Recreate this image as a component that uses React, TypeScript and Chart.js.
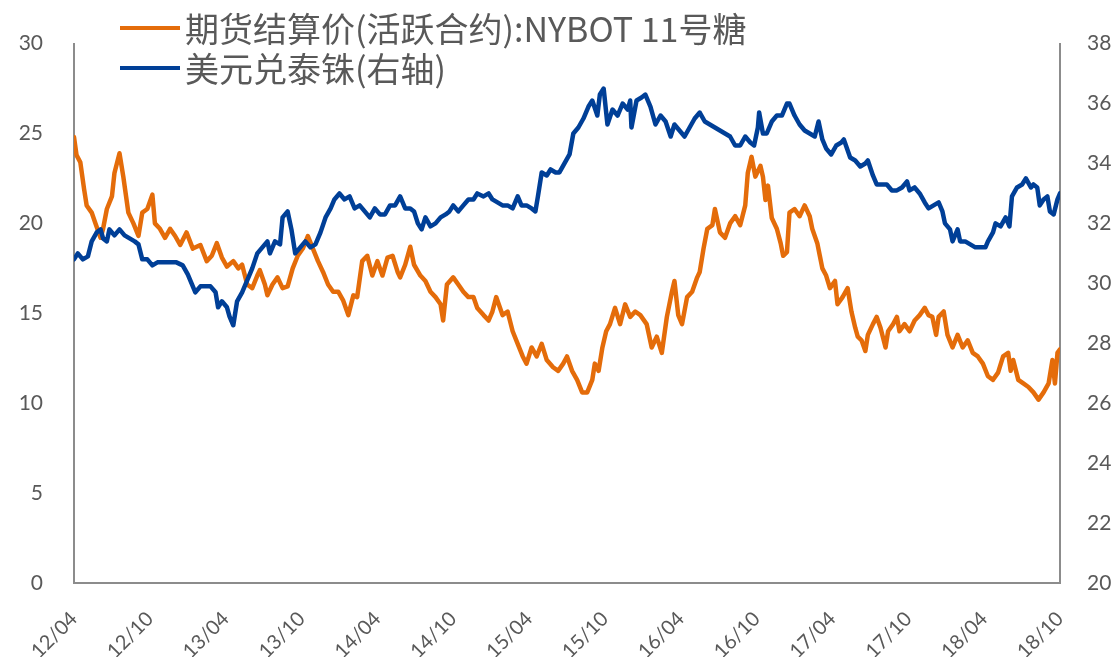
import React, { useEffect, useRef } from "react";
import { Chart, registerables } from "chart.js";

Chart.register(...registerables);

// X axis: months since 2012-04; ticks every 6 months
const tickLabels = ["12/04", "12/10", "13/04", "13/10", "14/04", "14/10", "15/04", "15/10", "16/04", "16/10", "17/04", "17/10", "18/04", "18/10"];

const legendLabels = ["期货结算价(活跃合约):NYBOT 11号糖", "美元兑泰铢(右轴)"];

// ICE/NYBOT No.11 sugar settlement price (left axis)
const sugarMonths = [0, 0.2, 0.5, 0.8, 1.0, 1.4, 1.7, 2.1, 2.3, 2.6, 3.0, 3.2, 3.6, 3.9, 4.3, 4.7, 5.1, 5.4, 5.8, 6.2, 6.4, 6.8, 7.2, 7.6, 8.0, 8.4, 8.9, 9.4, 10.0, 10.5, 10.9, 11.3, 11.7, 12.1, 12.6, 13.0, 13.3, 13.7, 14.1, 14.5, 14.7, 15.1, 15.3, 15.7, 16.1, 16.5, 16.9, 17.3, 17.7, 18.1, 18.5, 18.9, 19.3, 19.7, 20.1, 20.5, 20.9, 21.3, 21.7, 22.1, 22.4, 22.8, 23.2, 23.6, 24.0, 24.4, 24.8, 25.2, 25.6, 25.8, 26.2, 26.6, 26.9, 27.4, 27.8, 28.2, 28.6, 29.0, 29.2, 29.5, 30.0, 30.4, 30.8, 31.2, 31.6, 31.9, 32.4, 32.8, 33.1, 33.4, 33.9, 34.3, 34.7, 35.1, 35.5, 35.8, 36.2, 36.6, 37.0, 37.4, 37.9, 38.3, 38.7, 39.0, 39.4, 39.8, 40.2, 40.6, 41.0, 41.2, 41.5, 41.8, 42.1, 42.4, 42.8, 43.2, 43.6, 44.0, 44.4, 44.8, 45.3, 45.7, 46.1, 46.5, 46.9, 47.3, 47.5, 47.8, 48.1, 48.5, 48.9, 49.3, 49.5, 49.8, 50.1, 50.5, 50.7, 51.1, 51.5, 51.9, 52.3, 52.7, 53.1, 53.3, 53.6, 53.9, 54.3, 54.5, 54.7, 54.9, 55.2, 55.6, 55.9, 56.1, 56.4, 56.6, 57.0, 57.4, 57.8, 58.2, 58.4, 58.8, 59.0, 59.2, 59.5, 59.8, 60.2, 60.4, 60.8, 61.2, 61.5, 61.8, 62.0, 62.3, 62.6, 62.8, 63.2, 63.5, 63.8, 64.2, 64.4, 64.8, 65.1, 65.3, 65.7, 66.1, 66.5, 66.9, 67.3, 67.6, 67.9, 68.2, 68.4, 68.8, 69.1, 69.5, 69.9, 70.3, 70.7, 71.1, 71.5, 71.9, 72.3, 72.7, 73.1, 73.5, 73.9, 74.1, 74.3, 74.7, 75.1, 75.5, 75.9, 76.3, 76.7, 77.1, 77.4, 77.6, 77.8, 78.0];
const sugarPrices = [24.8, 23.8, 23.4, 21.9, 21.0, 20.6, 20.0, 19.2, 19.7, 20.8, 21.5, 22.8, 23.9, 22.6, 20.6, 20.0, 19.3, 20.6, 20.8, 21.6, 20.0, 19.7, 19.2, 19.7, 19.3, 18.8, 19.5, 18.6, 18.8, 17.9, 18.2, 18.9, 18.1, 17.6, 17.9, 17.5, 17.7, 16.6, 16.4, 17.1, 17.4, 16.6, 16.0, 16.6, 17.0, 16.4, 16.5, 17.5, 18.2, 18.6, 19.3, 18.6, 17.9, 17.3, 16.6, 16.2, 16.2, 15.7, 14.9, 16.0, 15.9, 17.9, 18.2, 17.1, 17.9, 17.1, 18.1, 18.2, 17.3, 17.0, 17.7, 18.7, 17.7, 17.1, 16.8, 16.2, 15.9, 15.5, 14.6, 16.6, 17.0, 16.6, 16.2, 15.9, 15.9, 15.3, 14.9, 14.6, 15.1, 15.9, 14.9, 15.1, 14.0, 13.3, 12.6, 12.2, 13.1, 12.6, 13.3, 12.4, 12.0, 11.8, 12.2, 12.6, 11.8, 11.3, 10.6, 10.6, 11.3, 12.2, 11.8, 13.1, 14.0, 14.4, 15.3, 14.4, 15.5, 14.8, 15.1, 14.9, 14.4, 13.1, 13.7, 12.8, 14.8, 16.2, 16.8, 14.9, 14.4, 15.9, 16.2, 17.0, 17.3, 18.6, 19.7, 19.9, 20.8, 19.5, 19.2, 20.0, 20.4, 19.9, 21.0, 22.8, 23.7, 22.6, 23.2, 22.6, 21.3, 22.1, 20.3, 19.7, 18.9, 18.2, 18.4, 20.6, 20.8, 20.4, 21.0, 20.4, 19.7, 18.9, 18.2, 17.5, 17.1, 16.4, 16.8, 15.5, 15.9, 16.4, 15.1, 14.2, 13.7, 13.5, 12.9, 13.8, 14.4, 14.8, 14.2, 13.1, 14.0, 14.4, 14.8, 14.0, 14.4, 14.0, 14.6, 14.9, 15.3, 14.9, 14.8, 13.8, 14.8, 15.1, 13.8, 13.1, 13.8, 13.1, 13.5, 12.8, 12.6, 12.2, 11.5, 11.3, 11.7, 12.6, 12.8, 11.8, 12.4, 11.3, 11.1, 10.9, 10.6, 10.2, 10.6, 11.1, 12.4, 11.1, 12.8, 13.0];

// USD/THB (right axis)
const thbMonths = [0, 0.3, 0.7, 1.1, 1.4, 1.8, 2.1, 2.3, 2.6, 2.8, 3.2, 3.6, 4.0, 4.4, 4.8, 5.1, 5.4, 5.8, 6.2, 6.6, 7.1, 7.6, 8.1, 8.6, 9.0, 9.3, 9.6, 10.0, 10.4, 10.8, 11.2, 11.4, 11.7, 12.1, 12.3, 12.6, 12.9, 13.3, 13.7, 14.1, 14.5, 14.9, 15.3, 15.5, 15.9, 16.3, 16.5, 16.9, 17.2, 17.5, 17.9, 18.3, 18.7, 19.1, 19.5, 19.9, 20.3, 20.6, 21.0, 21.4, 21.8, 22.2, 22.6, 23.0, 23.4, 23.8, 24.2, 24.6, 25.0, 25.4, 25.8, 26.2, 26.6, 26.9, 27.2, 27.5, 27.8, 28.2, 28.6, 29.0, 29.4, 29.7, 30.0, 30.4, 30.8, 31.2, 31.6, 31.9, 32.4, 32.8, 33.1, 33.5, 33.9, 34.3, 34.7, 35.1, 35.4, 35.8, 36.2, 36.5, 36.7, 37.0, 37.4, 37.7, 38.1, 38.4, 38.8, 39.2, 39.5, 39.9, 40.3, 40.7, 41.0, 41.4, 41.6, 41.9, 42.2, 42.6, 43.0, 43.4, 43.8, 44.0, 44.1, 44.5, 44.9, 45.2, 45.6, 46.0, 46.4, 46.8, 47.2, 47.5, 47.9, 48.3, 48.7, 49.1, 49.5, 49.9, 50.3, 50.7, 51.1, 51.5, 51.9, 52.3, 52.7, 53.1, 53.5, 53.8, 54.1, 54.2, 54.5, 54.8, 55.2, 55.6, 56.0, 56.4, 56.6, 57.0, 57.4, 57.8, 58.2, 58.6, 58.9, 59.2, 59.5, 59.9, 60.3, 60.7, 60.9, 61.4, 61.8, 62.2, 62.6, 62.8, 63.2, 63.5, 63.9, 64.3, 64.7, 65.1, 65.5, 65.9, 66.1, 66.5, 66.9, 67.3, 67.6, 68.0, 68.4, 68.7, 68.9, 69.3, 69.5, 69.9, 70.1, 70.5, 70.9, 71.3, 71.7, 72.1, 72.3, 72.7, 72.9, 73.3, 73.7, 74.0, 74.2, 74.6, 75.0, 75.3, 75.7, 75.9, 76.2, 76.4, 76.7, 77.0, 77.2, 77.5, 77.8, 78.0];
const thbRates = [30.8, 31.0, 30.8, 30.9, 31.4, 31.7, 31.8, 31.5, 31.4, 31.8, 31.6, 31.8, 31.6, 31.5, 31.4, 31.3, 30.8, 30.8, 30.6, 30.7, 30.7, 30.7, 30.7, 30.6, 30.3, 30.0, 29.7, 29.9, 29.9, 29.9, 29.7, 29.2, 29.4, 29.2, 28.9, 28.6, 29.4, 29.7, 30.1, 30.5, 31.0, 31.2, 31.4, 31.0, 31.4, 31.3, 32.2, 32.4, 31.8, 31.0, 31.2, 31.4, 31.2, 31.3, 31.7, 32.2, 32.5, 32.8, 33.0, 32.8, 32.9, 32.5, 32.6, 32.4, 32.2, 32.5, 32.3, 32.3, 32.6, 32.6, 32.9, 32.5, 32.5, 32.4, 32.0, 31.8, 32.2, 31.9, 32.0, 32.2, 32.3, 32.4, 32.6, 32.4, 32.6, 32.8, 32.8, 33.0, 32.9, 33.0, 32.8, 32.7, 32.6, 32.6, 32.5, 32.9, 32.6, 32.6, 32.5, 32.4, 32.9, 33.7, 33.6, 33.8, 33.7, 33.7, 34.0, 34.3, 35.0, 35.2, 35.5, 35.9, 36.1, 35.6, 36.3, 36.5, 35.3, 35.8, 35.6, 36.0, 35.8, 36.1, 35.2, 36.1, 36.2, 36.3, 35.9, 35.3, 35.6, 35.4, 34.9, 35.3, 35.1, 34.9, 35.2, 35.5, 35.7, 35.4, 35.3, 35.2, 35.1, 35.0, 34.9, 34.6, 34.6, 34.9, 34.7, 34.6, 35.2, 35.7, 35.0, 35.0, 35.4, 35.6, 35.6, 36.0, 36.0, 35.6, 35.3, 35.1, 35.0, 34.9, 35.4, 34.8, 34.5, 34.3, 34.6, 34.7, 34.8, 34.2, 34.1, 33.9, 34.0, 34.1, 33.6, 33.3, 33.3, 33.3, 33.1, 33.1, 33.2, 33.4, 33.1, 33.2, 33.0, 32.7, 32.5, 32.6, 32.7, 32.4, 32.0, 31.8, 31.4, 31.8, 31.4, 31.4, 31.3, 31.2, 31.2, 31.2, 31.4, 31.7, 32.0, 31.9, 32.2, 31.9, 32.9, 33.2, 33.3, 33.5, 33.2, 33.3, 33.2, 32.6, 32.8, 32.9, 32.4, 32.3, 32.8, 33.0];

const ORANGE = "#E46C0A";
const BLUE = "#003F97";
const TEXT = "#595959";
const AXIS = "#8C8C8C";
const NUM_FONT = "Lato, 'Open Sans', sans-serif";

export default function App() {
  const ref = useRef<HTMLCanvasElement>(null);

  useEffect(() => {
    const chart = new Chart(ref.current as HTMLCanvasElement, {
      type: "line",
      data: {
        datasets: [
          {
            label: legendLabels[0],
            data: sugarMonths.map((m, i) => ({ x: m, y: sugarPrices[i] })),
            borderColor: ORANGE,
            backgroundColor: ORANGE,
            borderWidth: 4.5,
            pointRadius: 0,
            borderJoinStyle: "round",
            borderCapStyle: "round",
            tension: 0,
            yAxisID: "y",
            order: 1,
          },
          {
            label: legendLabels[1],
            data: thbMonths.map((m, i) => ({ x: m, y: thbRates[i] })),
            borderColor: BLUE,
            backgroundColor: BLUE,
            borderWidth: 4.5,
            pointRadius: 0,
            borderJoinStyle: "round",
            borderCapStyle: "round",
            tension: 0,
            yAxisID: "y1",
            order: 0,
          },
        ],
      },
      options: {
        responsive: false,
        animation: false,
        events: [],
        layout: { padding: { top: 35, left: 0, right: 0, bottom: 0 } },
        plugins: { legend: { display: false }, tooltip: { enabled: false } },
        scales: {
          x: {
            type: "linear",
            min: 0,
            max: 78,
            grid: { display: false, drawTicks: false },
            border: { display: true, color: AXIS, width: 2 },
            ticks: {
              stepSize: 6,
              autoSkip: false,
              maxRotation: 45,
              minRotation: 45,
              padding: 24,
              color: TEXT,
              font: { family: NUM_FONT, size: 20 },
              callback: (v: any) => tickLabels[Math.round(Number(v) / 6)] ?? "",
            },
            afterFit: (s: any) => {
              s.height = 74;
            },
          },
          y: {
            position: "left",
            min: 0,
            max: 30,
            grid: { display: false, drawTicks: false },
            border: { display: true, color: AXIS, width: 2 },
            ticks: { stepSize: 5, padding: 31, color: TEXT, font: { family: NUM_FONT, size: 21 } },
            afterFit: (s: any) => {
              s.width = 74;
            },
          },
          y1: {
            position: "right",
            min: 20,
            max: 38,
            grid: { display: false, drawTicks: false },
            border: { display: true, color: AXIS, width: 2 },
            ticks: { stepSize: 2, padding: 27, color: TEXT, font: { family: NUM_FONT, size: 21 } },
            afterFit: (s: any) => {
              s.width = 57;
            },
          },
        },
      },
    });
    return () => chart.destroy();
  }, []);

  const legendColors = [ORANGE, BLUE];

  return (
    <div style={{ position: "fixed", left: 0, top: 0, width: 1117, height: 657, background: "#fff" }}>
      <canvas ref={ref} width={1117} height={657} style={{ display: "block" }} />
      {legendLabels.map((label, i) => (
        <div
          key={label}
          style={{
            position: "absolute",
            left: 120,
            top: 28 + i * 40 - 22,
            height: 44,
            display: "flex",
            alignItems: "center",
            whiteSpace: "nowrap",
          }}
        >
          <div style={{ width: 60, height: 4, background: legendColors[i], marginRight: 5 }} />
          <span
            style={{
              fontFamily: "'Noto Sans CJK SC', sans-serif",
              fontSize: 34,
              color: TEXT,
              lineHeight: "44px",
            }}
          >
            {label}
          </span>
        </div>
      ))}
    </div>
  );
}
